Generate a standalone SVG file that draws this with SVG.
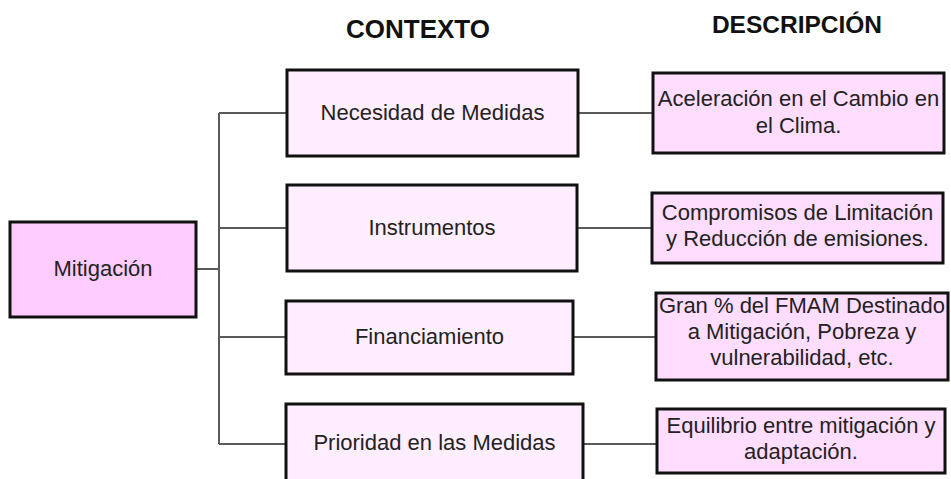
<svg xmlns="http://www.w3.org/2000/svg" width="951" height="479" viewBox="0 0 951 479">
<style>
text{font-family:"Liberation Sans",Arial,sans-serif;fill:#222;text-anchor:middle}
.t{font-weight:bold;fill:#111}
.b{stroke:#111;stroke-width:3}
.root{fill:#ffccff}
.ctx{fill:#ffeeff}
.desc{fill:#ffddff}
.n{font-size:22px}
.c{stroke:#5a5a5a;stroke-width:2;fill:none}
</style>
<rect width="951" height="479" fill="#ffffff"/>
<g id="titles">
<text class="t" x="418" y="38" font-size="26">CONTEXTO</text>
<text class="t" x="797" y="33" font-size="24.5">DESCRIPCIÓN</text>
</g>
<g id="connectors">
<path class="c" d="M196 269H219M219 113V444M219 113H287M219 228H287M219 337H286M219 444H286"/>
<path class="c" d="M578 113H653M577 228H652M573 337H656M583 444H657"/>
</g>
<g id="mitigacion">
<rect class="b root" x="10" y="222" width="186" height="95"/>
<text class="n" x="103" y="276">Mitigación</text>
</g>
<g id="necesidad">
<rect class="b ctx" x="287" y="70" width="291" height="86"/>
<text class="n" x="432.5" y="120">Necesidad de Medidas</text>
</g>
<g id="instrumentos">
<rect class="b ctx" x="287" y="185" width="290" height="86"/>
<text class="n" x="432" y="235">Instrumentos</text>
</g>
<g id="financiamiento">
<rect class="b ctx" x="286" y="301" width="287" height="73"/>
<text class="n" x="429.5" y="344">Financiamiento</text>
</g>
<g id="prioridad">
<rect class="b ctx" x="286" y="404" width="297" height="90"/>
<text class="n" x="434.5" y="450">Prioridad en las Medidas</text>
</g>
<g id="aceleracion">
<rect class="b desc" x="653" y="73" width="291" height="80"/>
<text class="n" x="798.5" y="106">Aceleración en el Cambio en</text>
<text class="n" x="798.5" y="133">el Clima.</text>
</g>
<g id="compromisos">
<rect class="b desc" x="652" y="193" width="291" height="70"/>
<text class="n" x="797.5" y="220">Compromisos de Limitación</text>
<text class="n" x="797.5" y="246">y Reducción de emisiones.</text>
</g>
<g id="gran">
<rect class="b desc" x="656" y="293" width="292" height="87"/>
<text class="n" x="802" y="313">Gran % del FMAM Destinado</text>
<text class="n" x="802" y="339">a Mitigación, Pobreza y</text>
<text class="n" x="802" y="365">vulnerabilidad, etc.</text>
</g>
<g id="equilibrio">
<rect class="b desc" x="657" y="409" width="288" height="64"/>
<text class="n" x="801" y="433">Equilibrio entre mitigación y</text>
<text class="n" x="801" y="459">adaptación.</text>
</g>
</svg>
